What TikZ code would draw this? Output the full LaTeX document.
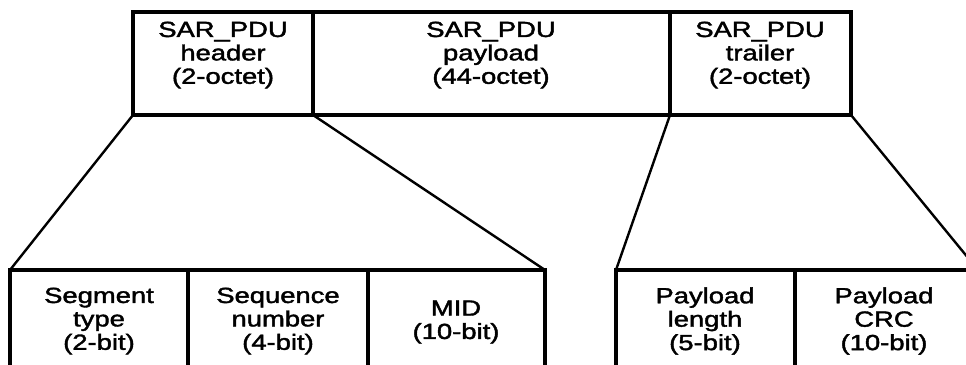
\documentclass[tikz,border=0pt]{standalone}
\usepackage{fontspec}
\setmainfont{Liberation Sans}
\newfontface\diagfont{Liberation Sans}[FakeBold=1.6]
\begin{document}
\begin{tikzpicture}[x=1bp,y=-1bp,
  box/.style={draw, line width=3.6bp, rectangle, inner sep=0pt, outer sep=0pt, anchor=north west},
  topbox/.style={box, minimum height=103bp},
  botbox/.style={box, line width=3.3bp, minimum height=140bp},
  lbl/.style={inner sep=0pt, align=center, font=\diagfont\fontsize{22}{23.5}\selectfont, xscale=1.25},
  fan/.style={line width=2.4bp}]
\useasboundingbox (0,0) rectangle (966,364);
\clip (0,0) rectangle (966,364);
% top row
\node[topbox, minimum width=180bp] (hdr) at (133,12) {};
\node[topbox, minimum width=357bp] (pay) at (313,12) {};
\node[topbox, minimum width=181bp] (trl) at (670,12) {};
% bottom row
\node[botbox, minimum width=178bp] (seg) at (10,270) {};
\node[botbox, minimum width=180bp] (seq) at (188,270) {};
\node[botbox, minimum width=177bp] (mid) at (368,270) {};
\node[botbox, minimum width=179bp] (len) at (616,270) {};
\node[botbox, minimum width=183bp] (crc) at (795,270) {};
% labels
\node[lbl] (thdr) at (223,55) {SAR\_PDU\\header\\(2-octet)};
\node[lbl] (tpay) at (491,55) {SAR\_PDU\\payload\\(44-octet)};
\node[lbl] (ttrl) at (760,55) {SAR\_PDU\\trailer\\(2-octet)};
\node[lbl] (tseg) at (99,321) {Segment\\type\\(2-bit)};
\node[lbl] (tseq) at (278,321) {Sequence\\number\\(4-bit)};
\node[lbl] (tmid) at (456,322) {MID\\(10-bit)};
\node[lbl] (tlen) at (705,321) {Payload\\length\\(5-bit)};
\node[lbl] (tcrc) at (884,321) {Payload\\CRC\\(10-bit)};
% fan lines
\draw[fan] (hdr.south west) -- (seg.north west);
\draw[fan] (hdr.south east) -- (mid.north east);
\draw[fan] (trl.south west) -- (len.north west);
\draw[fan] (trl.south east) -- (crc.north east);
\end{tikzpicture}
\end{document}
